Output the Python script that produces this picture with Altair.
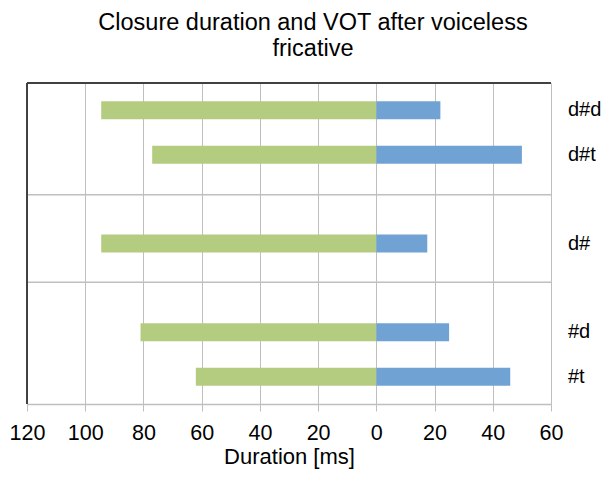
import altair as alt
import pandas as pd

# ---- data ----
labels = ["d#d", "d#t", "d#", "#d", "#t"]
slot = [0.5, 1.5, 3.5, 5.5, 6.5]          # row position (two empty rows between groups)
closure = [94.5, 77, 94.5, 81, 62]        # closure duration (ms), drawn to the left
vot = [22, 50, 17.5, 25, 46]              # VOT (ms), drawn to the right
separators = [2.4, 4.37]                  # group boundary lines (row units)
x_ticks = [-120, -100, -80, -60, -40, -20, 0, 20, 40, 60]

df = pd.DataFrame({
    "label": labels,
    "slot": slot,
    "closure_neg": [-c for c in closure],
    "vot": vot,
    "zero": [0] * len(labels),
})
sep_df = pd.DataFrame({"sep": separators})

W, H = 524, 321
FONT = "Liberation Sans"

xscale = alt.Scale(domain=[-120, 60], nice=False, zero=False)
yscale = alt.Scale(domain=[0, 7], reverse=True, nice=False, zero=False)

xaxis = alt.Axis(
    values=x_ticks,
    labelExpr="abs(datum.value)",
    labelFlush=False,
    labelOverlap=False,
    title="Duration [ms]",
    grid=True,
    gridColor="#BFBFBF",
    gridWidth=1,
    domainColor="#BFBFBF",
    domainWidth=1.5,
    tickColor="#BFBFBF",
    tickSize=7,
    labelFontSize=21.5,
    labelFont=FONT,
    labelColor="#000000",
    labelPadding=11,
    titleFontSize=22,
    titleFont=FONT,
    titleFontWeight="normal",
    titleColor="#000000",
    titlePadding=3,
)

base = alt.Chart(df)

green = base.mark_bar(size=18, color="#B4CC80").encode(
    x=alt.X("closure_neg:Q", scale=xscale, axis=xaxis),
    x2="zero:Q",
    y=alt.Y("slot:Q", scale=yscale, axis=None),
)

blue = base.mark_bar(size=18, color="#70A3D3").encode(
    x=alt.X("zero:Q", scale=xscale),
    x2="vot:Q",
    y=alt.Y("slot:Q", scale=yscale, axis=None),
)

seps = alt.Chart(sep_df).mark_rule(color="#BFBFBF", strokeWidth=1.5).encode(
    y=alt.Y("sep:Q", scale=yscale, axis=None),
    x=alt.value(0),
    x2=alt.value(W),
)

left_border = alt.Chart(sep_df).mark_rule(color="#404040", strokeWidth=1.8).encode(
    x=alt.value(0), y=alt.value(0), y2=alt.value(H)
)
top_border = alt.Chart(sep_df).mark_rule(color="#404040", strokeWidth=1.8).encode(
    y=alt.value(0), x=alt.value(0), x2=alt.value(W)
)

row_labels = base.mark_text(
    align="left", baseline="middle", fontSize=20, font=FONT, color="#000000"
).encode(
    y=alt.Y("slot:Q", scale=yscale, axis=None),
    x=alt.value(541),
    text="label:N",
)

chart = alt.layer(seps, green, blue, left_border, top_border, row_labels).properties(
    width=W,
    height=H,
    title=alt.TitleParams(
        text=["Closure duration and VOT after voiceless", "fricative"],
        fontSize=23.5,
        font=FONT,
        fontWeight="normal",
        color="#000000",
        anchor="middle",
        dx=24,
        offset=22,
        lineHeight=26,
    ),
    padding={"left": 19, "top": 75, "right": 51, "bottom": 65},
    autosize=alt.AutoSizeParams(type="none"),
).configure_view(stroke=None).configure(background="white")

chart.save("out.html", embed_options={"renderer": "svg", "actions": False})
